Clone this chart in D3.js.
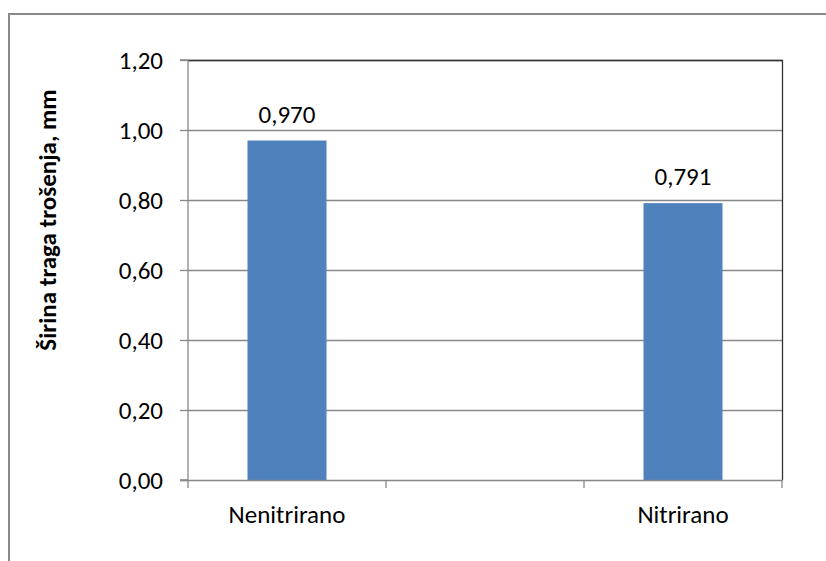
<!DOCTYPE html>
<html><head><meta charset="utf-8">
<script src="https://cdn.jsdelivr.net/npm/d3@7"></script>
<style>body{margin:0;background:#fff}svg{display:block}text{font-family:Carlito,Lato,"Open Sans",sans-serif}</style>
</head><body>
<script>
const categories = ["Nenitrirano", "", "Nitrirano"];
const values = [0.970, null, 0.791];
const valueLabels = ["0,970", "", "0,791"];
const yTicks = [0, 0.2, 0.4, 0.6, 0.8, 1.0, 1.2];
const yTickLabels = ["0,00", "0,20", "0,40", "0,60", "0,80", "1,00", "1,20"];
const yTitle = "Širina traga trošenja, mm";

const W = 826, H = 561, FS = 25;
const FF = 'Carlito,Lato,"Open Sans",sans-serif';
const svg = d3.select("body").append("svg").attr("width", W).attr("height", H);
// outer frame
svg.append("rect").attr("x", 9).attr("y", 14).attr("width", 900).attr("height", 700)
  .attr("fill", "none").attr("stroke", "#888").attr("stroke-width", 2);

const L = 188, R = 782, T = 60, B = 480;
const x = d3.scaleBand().domain(d3.range(categories.length)).range([L, R]).paddingInner(0).paddingOuter(0);
const y = d3.scaleLinear().domain([0, 1.2]).range([B, T]);

// gridlines
svg.append("g").selectAll("line").data(yTicks.slice(1)).join("line")
  .attr("x1", L).attr("x2", R).attr("y1", d => Math.round(y(d)) + 0.5).attr("y2", d => Math.round(y(d)) + 0.5)
  .attr("stroke", "#888").attr("stroke-width", 1.3);

// plot border top/right
svg.append("path").attr("d", `M${L},${T+0.5}H${R+0.5}V${B}`).attr("fill", "none").attr("stroke", "#333").attr("stroke-width", 1.3);

// bars
const bw = 79;
svg.append("g").selectAll("rect").data(values.map((v, i) => ({v, i})).filter(d => d.v != null)).join("rect")
  .attr("x", d => x(d.i) + x.bandwidth() / 2 - bw / 2)
  .attr("width", bw)
  .attr("y", d => y(d.v)).attr("height", d => B - y(d.v))
  .attr("fill", "#4f81bd");

// value labels
svg.append("g").selectAll("text").data(values.map((v, i) => ({v, i})).filter(d => d.v != null)).join("text")
  .attr("x", d => x(d.i) + x.bandwidth() / 2)
  .attr("y", d => y(d.v) - 18)
  .attr("text-anchor", "middle").attr("font-size", FS).attr("fill", "#000")
  .text(d => valueLabels[d.i]);

// y axis
const yAxis = d3.axisLeft(y).tickValues(yTicks).tickFormat((d, i) => yTickLabels[i]).tickSize(8).tickPadding(17);
const gy = svg.append("g").attr("transform", `translate(${L},0)`).call(yAxis);
gy.attr("font-family", FF).attr("font-size", FS);
gy.select(".domain").attr("stroke", "#888").attr("stroke-width", 1.3).attr("d", `M-8,${T}H0V${B}H-8`);
gy.selectAll(".tick line").attr("stroke", "#888").attr("stroke-width", 1.3);
gy.selectAll(".tick text").attr("font-size", FS).attr("fill", "#000").attr("x", -25).attr("dy", "0.35em");

// x axis
const gx = svg.append("g").attr("transform", `translate(0,${B})`);
gx.append("line").attr("x1", L - 8).attr("x2", R + 1).attr("y1", 0.5).attr("y2", 0.5).attr("stroke", "#888").attr("stroke-width", 1.3);
const xt = d3.range(categories.length + 1).map(i => i < categories.length ? x(i) : x(categories.length - 1) + x.bandwidth());
gx.selectAll(".xt").data(xt).join("line").attr("class", "xt")
  .attr("x1", d => d).attr("x2", d => d).attr("y1", 0).attr("y2", 8).attr("stroke", "#888").attr("stroke-width", 1.3);
gx.selectAll(".xl").data(categories).join("text").attr("class", "xl")
  .attr("x", (d, i) => x(i) + x.bandwidth() / 2).attr("y", 43)
  .attr("text-anchor", "middle").attr("font-size", FS).attr("fill", "#000").text(d => d);

// y title
svg.append("text").attr("transform", `translate(56,220) rotate(-90)`)
  .attr("text-anchor", "middle").attr("font-size", FS).attr("font-weight", "bold").attr("fill", "#000")
  .text(yTitle);
</script>
</body></html>
